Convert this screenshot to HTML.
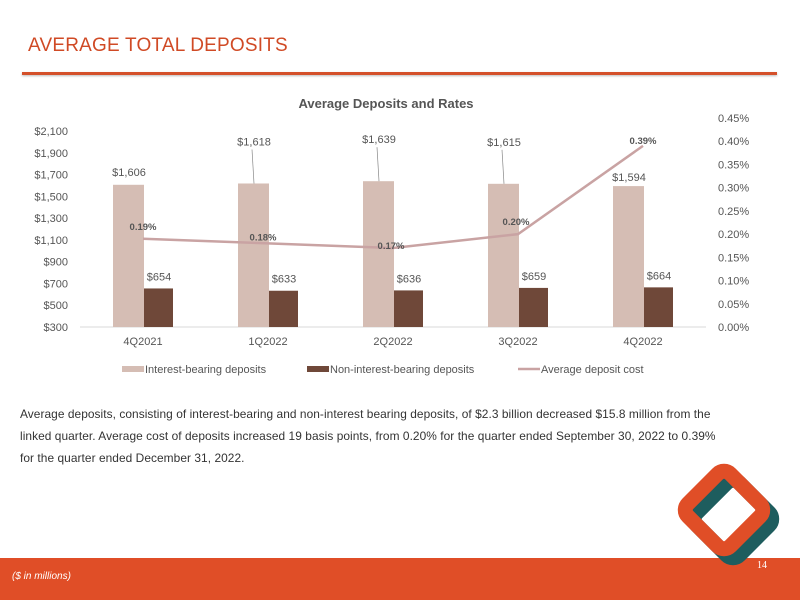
<!DOCTYPE html>
<html><head><meta charset="utf-8"><style>
body{margin:0;width:800px;height:600px;position:relative;background:#fff;font-family:"Liberation Sans",sans-serif;overflow:hidden}
.t{position:absolute}
</style></head><body>
<div class="t" style="left:28px;top:35px;font-size:19px;color:#d04a25;letter-spacing:0.2px">AVERAGE TOTAL DEPOSITS</div>
<div class="t" style="left:22px;top:72px;width:755px;height:3px;background:#d4502a;box-shadow:0 1px 2px #bbb"></div>
<svg class="t" style="left:0;top:0" width="800" height="600" id="chart"></svg>
<div class="t" style="left:20px;top:403px;width:760px;white-space:nowrap;font-size:11.9px;letter-spacing:0.06px;line-height:22px;color:#333">Average deposits, consisting of interest-bearing and non-interest bearing deposits, of $2.3 billion decreased $15.8 million from the<br>linked quarter. Average cost of deposits increased 19 basis points, from 0.20% for the quarter ended September 30, 2022 to 0.39%<br>for the quarter ended December 31, 2022.</div>
<div class="t" style="left:0;top:558px;width:800px;height:42px;background:#e04e27"></div>
<div class="t" style="left:12px;top:571px;font-size:10px;font-style:italic;color:#fff">($ in millions)</div>
<div class="t" style="left:757px;top:560px;font-size:10px;color:#fff;font-family:'Liberation Serif',serif">14</div>
<svg class="t" style="left:660px;top:462px" width="135" height="118">
<rect x="34" y="18" width="60" height="60" rx="9" transform="translate(9 9) rotate(45 64 48)" fill="none" stroke="#1e5d5e" stroke-width="15"/>
<rect x="34" y="18" width="60" height="60" rx="9" transform="rotate(45 64 48)" fill="none" stroke="#e04e27" stroke-width="15"/>
</svg>
<script>
const categories=["4Q2021","1Q2022","2Q2022","3Q2022","4Q2022"];
const interestBearing=[1606,1618,1639,1615,1594];
const nonInterest=[654,633,636,659,664];
const depositCost=[0.19,0.18,0.17,0.20,0.39];
const leftTicks=[300,500,700,900,1100,1300,1500,1700,1900,2100];
const rightTicks=[0,0.05,0.10,0.15,0.20,0.25,0.30,0.35,0.40,0.45];
const svg=document.getElementById('chart');const NS='http://www.w3.org/2000/svg';
function yL(v){return 327-(v-300)/1800*196;}
function yR(v){return 327-v/0.45*209;}
function xC(i){return 143+i*125;}
function mk(t,a,txt){const e=document.createElementNS(NS,t);for(const k in a)e.setAttribute(k,a[k]);if(txt!==undefined)e.textContent=txt;svg.appendChild(e);return e;}
let e;
e=mk('text',{x:386,y:108,'text-anchor':'middle','font-size':13,'font-weight':'bold',fill:'#555'},'Average Deposits and Rates');


leftTicks.forEach(v=>{e=mk('text',{x:68,y:yL(v)+4,'text-anchor':'end','font-size':11,fill:'#555'},'$'+v.toLocaleString('en-US'));

});
rightTicks.forEach(v=>{e=mk('text',{x:718,y:yR(v)+4,'font-size':11,fill:'#555'},v.toFixed(2)+'%');

});
e=mk('line',{x1:80,y1:327,x2:706,y2:327,stroke:'#d9d9d9'});


categories.forEach((c,i)=>{const x=xC(i);
e=mk('rect',{x:x-30,y:yL(interestBearing[i]),width:31,height:327-yL(interestBearing[i]),fill:'#d5bdb4'});


e=mk('rect',{x:x+1,y:yL(nonInterest[i]),width:29,height:327-yL(nonInterest[i]),fill:'#6f4839'});


e=mk('text',{x:x-14,y:yL(interestBearing[i])-(i==0?9:i==4?5:38),'text-anchor':'middle','font-size':11,fill:'#555'},'$'+interestBearing[i].toLocaleString('en-US'));


if(i>0&&i<4){e=mk('line',{x1:x-16,y1:yL(interestBearing[i])-34,x2:x-14,y2:yL(interestBearing[i]),stroke:'#888','stroke-width':0.7});

}
e=mk('text',{x:x+16,y:yL(nonInterest[i])-8,'text-anchor':'middle','font-size':11,fill:'#555'},'$'+nonInterest[i]);


e=mk('text',{x:x,y:345,'text-anchor':'middle','font-size':11,fill:'#555'},c);


});
e=mk('polyline',{points:depositCost.map((v,i)=>xC(i)+','+yR(v)).join(' '),fill:'none',stroke:'#c9a3a3','stroke-width':2.5});


const ldx=[0,-5,-2,-2,0],ldy=[9,3,-1,9,2];
depositCost.forEach((v,i)=>{e=mk('text',{x:xC(i)+ldx[i],y:yR(v)-ldy[i],'text-anchor':'middle','font-size':9.5,'font-weight':'bold',fill:'#555'},v.toFixed(2)+'%');

});
const leg=[['rect','#d5bdb4','Interest-bearing deposits',122],['rect','#6f4839','Non-interest-bearing deposits',307],['line','#c9a3a3','Average deposit cost',518]];
leg.forEach(l=>{if(l[0]=='rect')e=mk('rect',{x:l[3],y:366,width:22,height:6,fill:l[1]});else e=mk('line',{x1:l[3],y1:369,x2:l[3]+22,y2:369,stroke:l[1],'stroke-width':2.5});


e=mk('text',{x:l[3]+23,y:373,'font-size':11,fill:'#555'},l[2]);

});
</script>
</body></html>
